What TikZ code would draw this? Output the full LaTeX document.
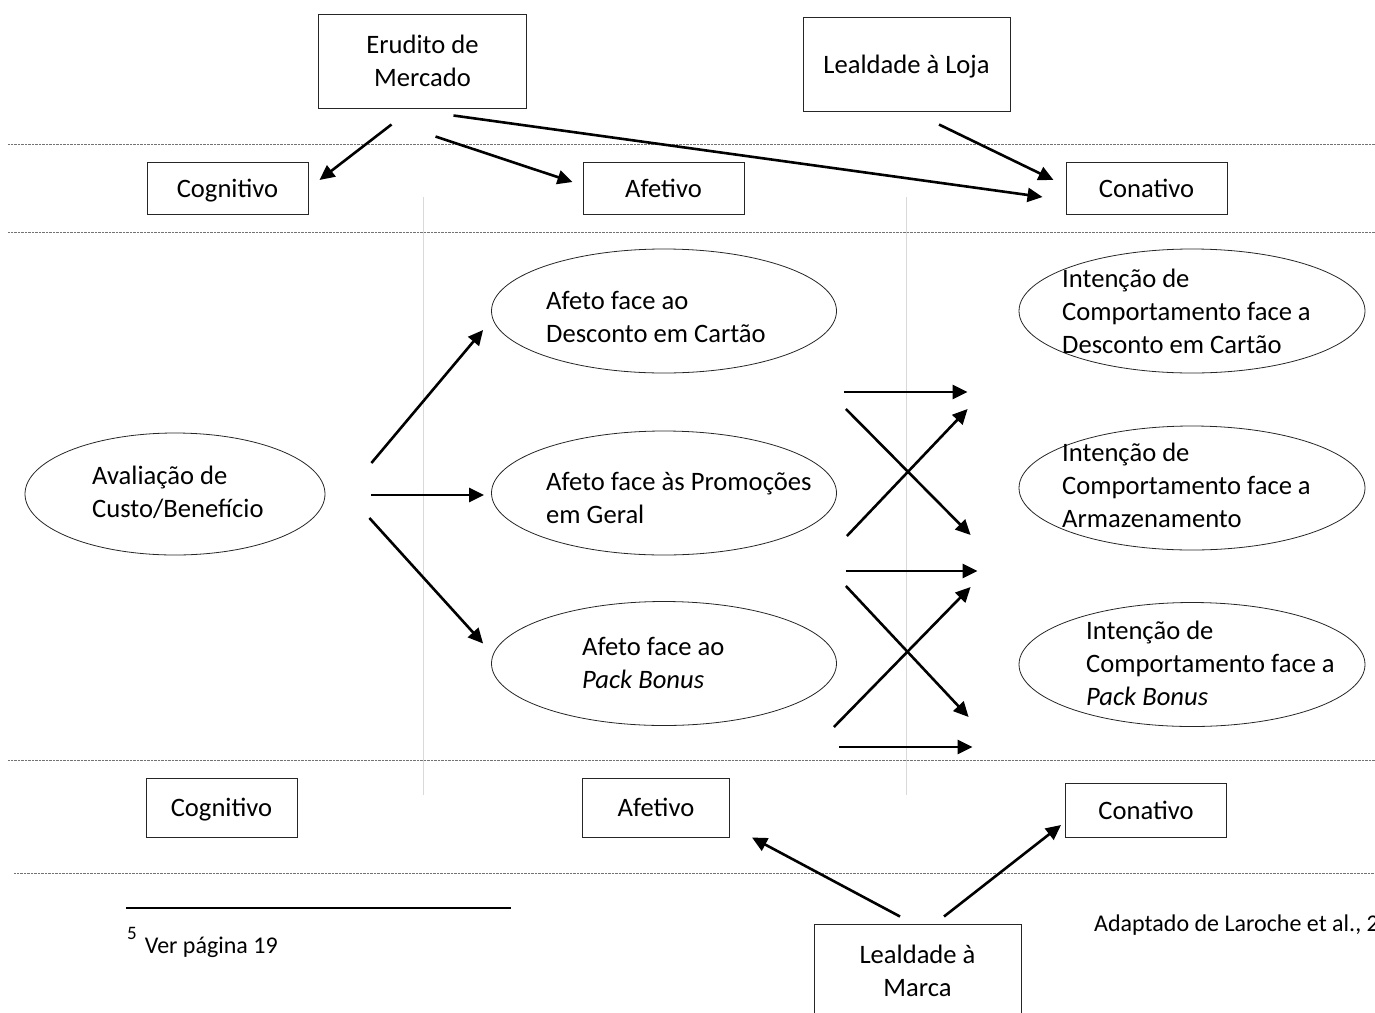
\documentclass[tikz,border=0pt]{standalone}
\usepackage{fontspec}
\setmainfont{Carlito}
\usetikzlibrary{shapes.geometric,arrows.meta}

\begin{document}
\begin{tikzpicture}[x=1pt, y=-1pt,
      every node/.append style={font=\fontsize{26.6}{33}\selectfont},
      arr/.style={line width=2.6pt, -{Triangle[length=15pt,width=14pt]}}]
    \tikzstyle{box} = [draw=black!85,line width=1pt,align=center,inner sep=0pt]
    \tikzstyle{word} = [box,text height=24pt,text depth=6pt]
    \tikzstyle{oval} = [draw=black!85,ellipse,line width=0.8pt,inner sep=0pt,minimum width=345pt,minimum height=124pt]
    \tikzstyle{txt} = [align=left,anchor=base west,inner sep=0pt]
    \tikzstyle{dotsep} = [black!55,line width=0.8pt,dash pattern=on 0.7pt off 0.7pt]
    \tikzstyle{vguide} = [black!15,line width=1pt]
    \tikzstyle{small} = [anchor=base west,inner sep=0pt,font=\fontsize{24}{28}\selectfont]
    \useasboundingbox (0,0) rectangle (1375,1012);
    \draw[dotsep] (8,144) -- (1375,144);
    \draw[dotsep] (8,232) -- (1375,232);
    \draw[dotsep] (8,760) -- (1375,760);
    \draw[dotsep] (14,873) -- (1375,873);
    \draw[vguide] (423,197) -- (423,795);
    \draw[vguide] (906,197) -- (906,795);
    \node (erudito) [box,minimum width=208pt,minimum height=94pt] at (422.5,61) {Erudito de\\Mercado};
    \node (lealLoja) [word,minimum width=207pt,minimum height=94pt] at (906.5,64) {Lealdade à Loja};
    \node (cogTop) [word,minimum width=161pt,minimum height=52pt] at (227.5,188) {Cognitivo};
    \node (afeTop) [word,minimum width=161pt,minimum height=52pt] at (663.5,188) {Afetivo};
    \node (conTop) [word,minimum width=161pt,minimum height=52pt] at (1146.5,188) {Conativo};
    \node (cogBot) [word,minimum width=151pt,minimum height=59pt] at (221.5,807.5) {Cognitivo};
    \node (afeBot) [word,minimum width=147pt,minimum height=59pt] at (656,807.5) {Afetivo};
    \node (conBot) [word,minimum width=161pt,minimum height=54pt] at (1146,810) {Conativo};
    \node (lealMarca) [box,minimum width=207pt,minimum height=94pt] at (917.5,971) {Lealdade à\\Marca};
    \node (avalia) [oval,minimum width=300pt,minimum height=122pt] at (175,494) {};
    \node (avaliaTxt) [txt] at (92,517) {Avaliação de\\Custo/Benefício};
    \node (afDesc) [oval] at (664,311) {};
    \node (afDescTxt) [txt] at (546,342) {Afeto face ao\\Desconto em Cartão};
    \node (afProm) [oval] at (664,493) {};
    \node (afPromTxt) [txt] at (546,523) {Afeto face às Promoções\\em Geral};
    \node (afPack) [oval] at (664,663.5) {};
    \node (afPackTxt) [txt] at (582,688) {Afeto face ao\\\textit{Pack Bonus}};
    \node (intDesc) [oval,minimum width=346pt] at (1192,311) {};
    \node (intDescTxt) [txt] at (1062,353) {Intenção de\\Comportamento face a\\Desconto em Cartão};
    \node (intArm) [oval,minimum width=346pt] at (1192,488) {};
    \node (intArmTxt) [txt] at (1062,527) {Intenção de\\Comportamento face a\\Armazenamento};
    \node (intPack) [oval,minimum width=346pt] at (1192,664.5) {};
    \node (intPackTxt) [txt] at (1086,705) {Intenção de\\Comportamento face a\\\textit{Pack Bonus}};
    \draw[line width=2pt] (126,908) -- (511,908);
    \node (nota) [small] at (127,953) {\raisebox{14pt}{\fontsize{19}{19}\selectfont 5}\hspace{8pt}Ver página 19};
    \node (fonte) [small] at (1094,931) {Adaptado de Laroche et al., 2};
    \draw[arr] ([shift={(-31,16)}]erudito.south) -- ([shift={(11,-8)}]cogTop.east);
    \draw[arr] ([shift={(13,28)}]erudito.south) -- ([shift={(-10,-6)}]afeTop.west);
    \draw[arr] ([shift={(31,7)}]erudito.south) -- ([shift={(-23,9)}]conTop.west);
    \draw[arr] ([shift={(32.5,13)}]lealLoja.south) -- ([shift={(-12,-8)}]conTop.west);
    \draw[arr] ([shift={(46,-31)}]avalia.east) -- ([shift={(-8,19)}]afDesc.west);
    \draw[arr] ([shift={(46,1)}]avalia.east) -- ([shift={(-7,2)}]afProm.west);
    \draw[arr] ([shift={(44,24)}]avalia.east) -- ([shift={(-8,-20)}]afPack.west);
    \draw[arr] ([shift={(7,81)}]afDesc.east) -- ([shift={(-51,81)}]intDesc.west);
    \draw[arr] ([shift={(9,98)}]afDesc.east) -- ([shift={(-48,47)}]intArm.west);
    \draw[arr] ([shift={(10,43)}]afProm.east) -- ([shift={(-51,98)}]intDesc.west);
    \draw[arr] ([shift={(9,78)}]afProm.east) -- ([shift={(-41,83)}]intArm.west);
    \draw[arr] ([shift={(9,93)}]afProm.east) -- ([shift={(-50,52.5)}]intPack.west);
    \draw[arr] ([shift={(-3,63.5)}]afPack.east) -- ([shift={(-48,99)}]intArm.west);
    \draw[arr] ([shift={(2,83.5)}]afPack.east) -- ([shift={(-46,82.5)}]intPack.west);
    \draw[arr] ([shift={(-17.5,-7)}]lealMarca.north) -- ([shift={(22,0)}]afeBot.south east);
    \draw[arr] ([shift={(26.5,-7)}]lealMarca.north) -- ([shift={(-4,15)}]conBot.west);
\end{tikzpicture}
\end{document}
